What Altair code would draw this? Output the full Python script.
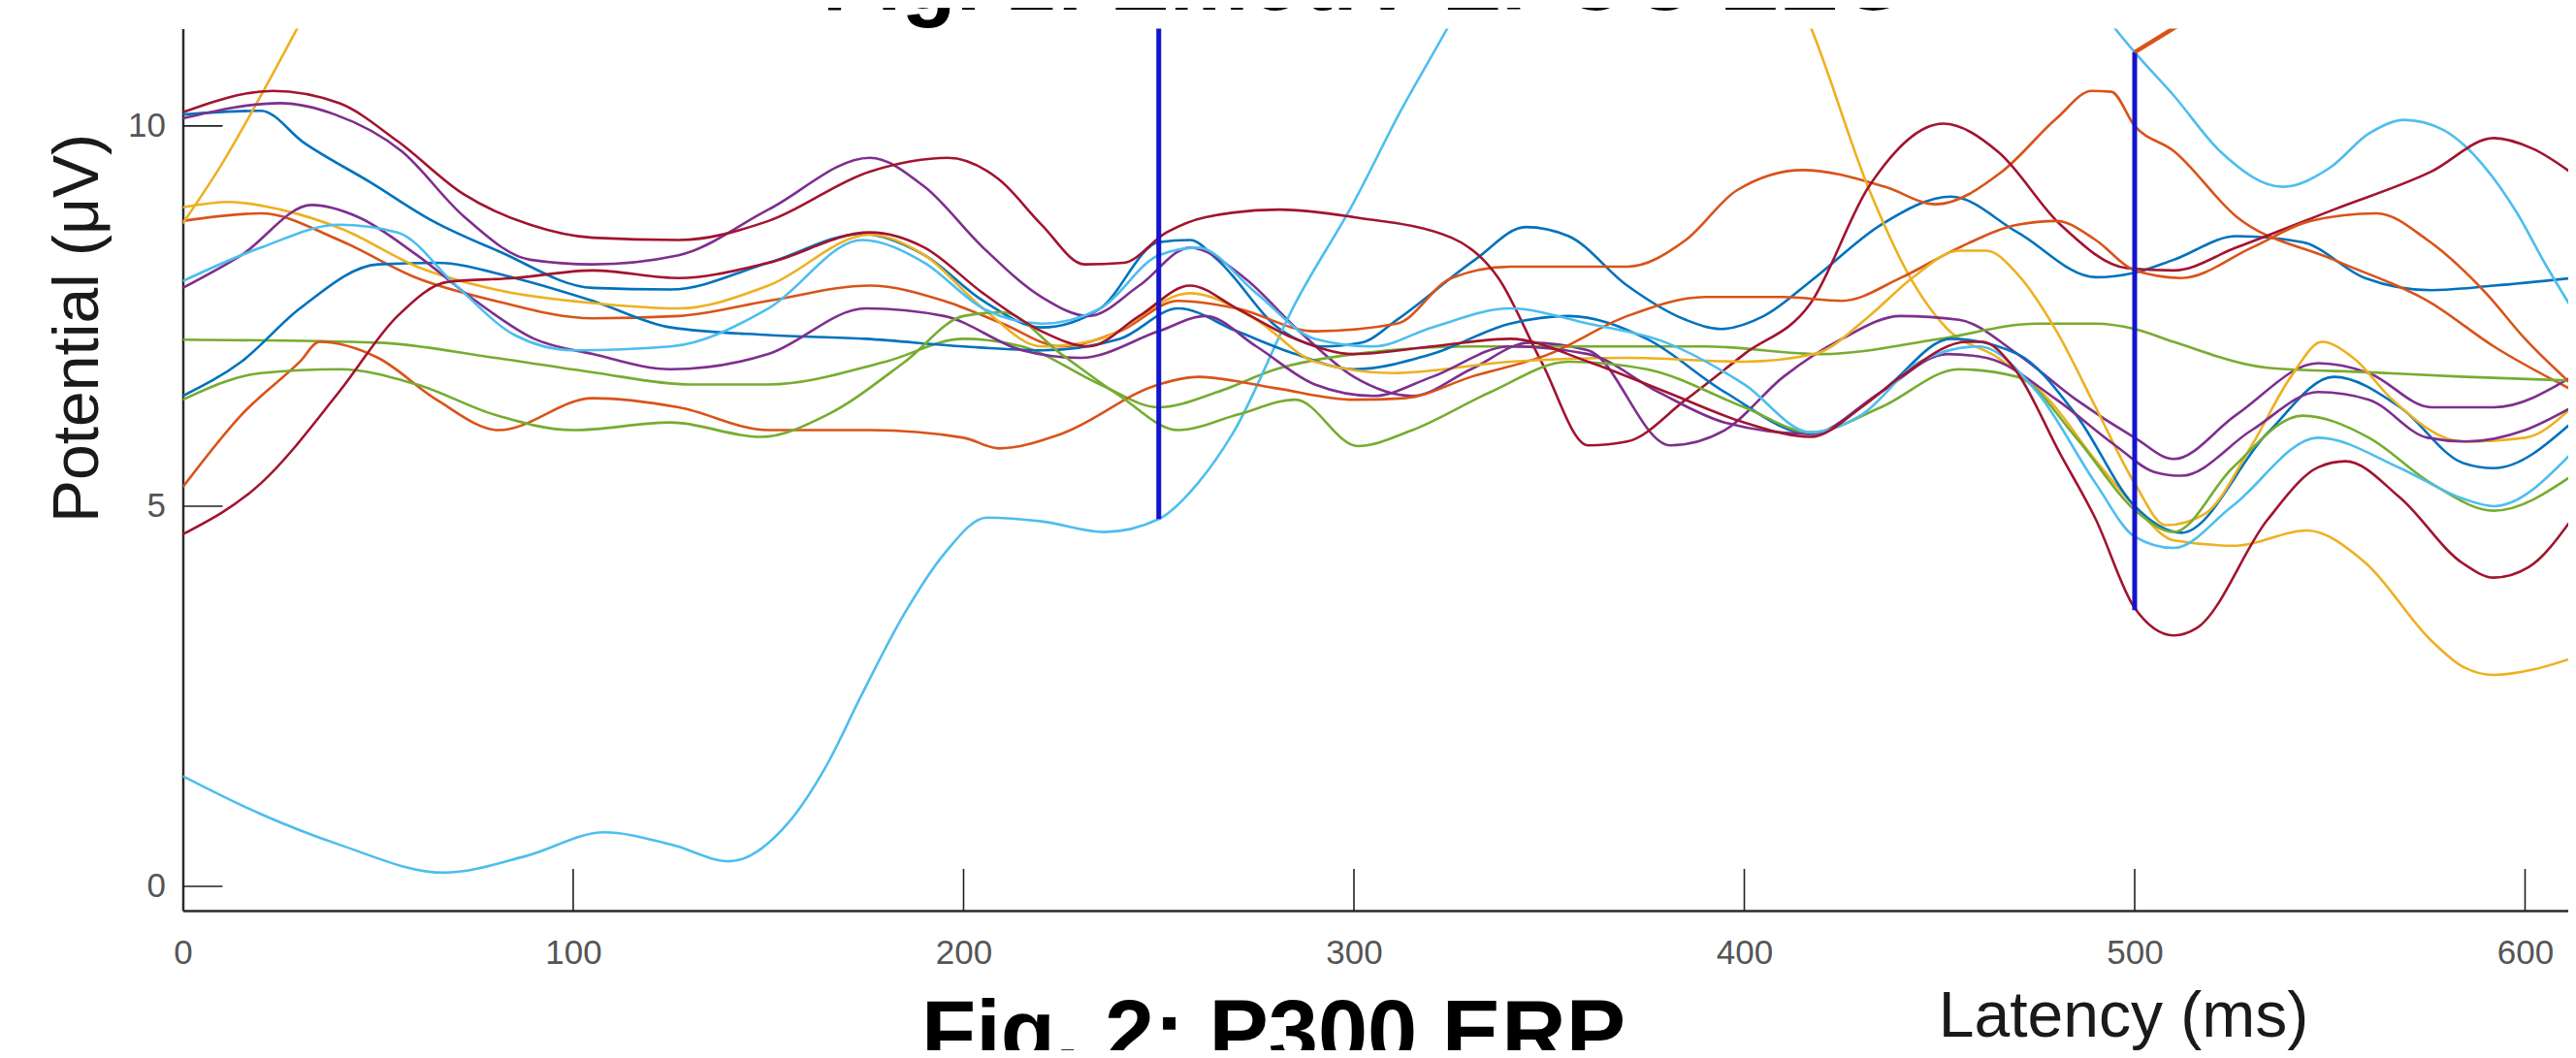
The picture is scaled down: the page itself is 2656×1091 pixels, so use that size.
import altair as alt
import pandas as pd

# ---------------- data (latency ms, potential uV) ----------------
CYAN_A = [(0,1.45),(20,0.95),(40,0.55),(67,0.18),(88,0.4),(108,0.71),(125,0.55),(140,0.33),(155,0.83),
          (165,1.6),(174,2.53),(185,3.6),(195,4.37),(206,4.85),(220,4.8),(236,4.66),(250,4.83),(260,5.3),
          (269,5.96),(285,7.67),(300,9.0),(312,10.2),(324,11.29),(340,12.8),(380,14.5),(440,14.5),(480,12.5),
          (495,11.28),(500,10.97),(510,10.4),(522,9.66),(538,9.2),(550,9.45),(560,9.9),(569,10.08),(579,9.95),
          (589,9.5),(598,8.85),(605,8.2),(612,7.6)]
YEL_A = [(0,8.72),(10,9.5),(20,10.4),(30,11.35),(45,12.8),(70,14.5),(100,15.5),(360,15.5),(392,14.0),
         (405,12.6),(417,11.3),(432,9.16),(443,7.96),(452,7.33),(465,6.95),(478,6.4),(490,5.6),(500,5.0),
         (510,4.55),(526,4.48),(544,4.68),(559,4.26),(576,3.23),(584,2.89),(592,2.78),(602,2.85),(612,3.0)]
YEL_B = [(0,8.93),(12,9.0),(25,8.9),(41,8.64),(60,8.15),(80,7.85),(105,7.67),(127,7.6),(150,7.9),(176,8.57),
         (190,8.3),(205,7.6),(220,7.1),(235,7.2),(258,7.8),(275,7.45),(290,6.9),(310,6.75),(340,6.9),(370,6.95),
         (400,6.9),(418,7.0),(432,7.5),(443,8.0),(455,8.36),(462,8.36),(470,8.05),(480,7.3),(490,6.3),(500,5.3),
         (508,4.75),(518,4.9),(530,5.8),(540,6.7),(548,7.16),(556,6.95),(566,6.4),(584,5.85),(600,5.9),(612,6.3)]
DR_A = [(0,10.18),(23,10.46),(40,10.3),(55,9.8),(72,9.1),(89,8.7),(105,8.53),(127,8.5),(150,8.75),(176,9.4),
        (196,9.58),(209,9.3),(220,8.7),(231,8.18),(241,8.2),(252,8.6),(262,8.8),(281,8.9),(300,8.8),(325,8.53),
        (337,8.0),(348,6.9),(360,5.8),(370,5.85),(385,6.4),(400,7.0),(417,7.67),(432,9.21),(451,10.03),(465,9.66),
        (481,8.7),(498,8.13),(510,8.1),(526,8.4),(551,8.9),(576,9.4),(592,9.84),(602,9.7),(612,9.38)]
PU_A = [(0,10.1),(25,10.3),(39,10.15),(56,9.67),(72,8.81),(89,8.24),(105,8.18),(127,8.3),(150,8.9),(176,9.58),
        (190,9.2),(205,8.4),(220,7.75),(232,7.5),(245,7.9),(258,8.4),(272,8.0),(286,7.3),(300,6.7),(315,6.45),
        (330,6.8),(345,7.15),(360,7.05),(381,5.8),(395,6.0),(410,6.7),(425,7.2),(440,7.5),(455,7.45),(470,7.0),
        (485,6.4),(500,5.9),(510,5.62),(526,6.2),(547,6.88),(560,6.75),(576,6.3),(592,6.3),(612,6.7)]
BL_A = [(0,10.15),(20,10.2),(31,9.78),(48,9.26),(64,8.75),(81,8.35),(105,7.87),(125,7.85),(150,8.2),(174,8.58),
        (190,8.3),(205,7.7),(220,7.35),(235,7.6),(250,8.47),(258,8.5),(265,8.24),(281,7.33),(292,7.1),(302,7.15),
        (311,7.45),(331,8.24),(344,8.67),(355,8.55),(370,7.9),(385,7.45),(394,7.33),(405,7.5),(418,8.0),(435,8.7),
        (453,9.07),(470,8.6),(490,8.01),(500,8.07),(510,8.24),(526,8.55),(543,8.47),(559,8.0),(576,7.84),(592,7.9),
        (612,8.0)]
DR_B = [(0,4.63),(20,5.3),(40,6.5),(55,7.5),(68,7.95),(85,8.0),(105,8.1),(127,8.0),(150,8.2),(176,8.6),(190,8.4),
        (205,7.8),(220,7.3),(232,7.1),(245,7.5),(258,7.9),(270,7.6),(285,7.2),(300,7.0),(320,7.1),(340,7.2),(360,6.9),
        (380,6.5),(400,6.1),(417,5.91),(430,6.3),(440,6.7),(457,7.16),(461,7.16),(469,6.82),(481,5.68),(490,4.83),
        (500,3.66),(510,3.3),(516,3.4),(534,4.82),(547,5.51),(554,5.59),(568,5.11),(584,4.25),(592,4.06),(601,4.2),
        (612,4.83)]
PU_B = [(0,7.87),(15,8.3),(33,8.96),(45,8.8),(60,8.3),(75,7.7),(90,7.2),(105,7.0),(125,6.8),(150,7.0),(175,7.6),
        (195,7.5),(215,7.05),(230,6.95),(250,7.3),(262,7.5),(275,7.1),(290,6.6),(305,6.45),(320,6.7),(340,7.1),
        (360,7.0),(378,6.5),(395,6.1),(417,5.95),(435,6.5),(452,7.0),(462,6.95),(480,6.4),(495,5.8),(505,5.45),
        (512,5.4),(530,6.0),(547,6.5),(560,6.4),(575,5.9),(585,5.85),(600,6.0),(612,6.3)]
OR_A = [(0,8.75),(20,8.85),(40,8.5),(60,8.0),(80,7.7),(105,7.47),(127,7.5),(150,7.7),(176,7.9),(195,7.7),
        (210,7.4),(225,7.1),(240,7.3),(255,7.7),(270,7.6),(290,7.3),(311,7.4),(325,8.0),(340,8.15),(370,8.15),
        (385,8.5),(398,9.15),(415,9.42),(436,9.2),(449,8.97),(466,9.4),(480,10.1),(489,10.46),(494,10.45),
        (500,10.0),(510,9.67),(526,8.81),(551,8.24),(576,7.67),(592,7.1),(612,6.53)]
OR_B = [(0,5.25),(15,6.2),(30,6.9),(35,7.16),(50,6.95),(65,6.4),(81,6.0),(105,6.42),(127,6.3),(150,6.0),
        (176,6.0),(200,5.9),(209,5.76),(225,5.95),(250,6.6),(260,6.7),(280,6.55),(300,6.4),(313,6.42),(330,6.7),
        (350,7.0),(370,7.5),(390,7.75),(410,7.75),(425,7.7),(440,8.0),(455,8.4),(470,8.7),(480,8.75),(490,8.5),
        (500,8.1),(512,8.0),(530,8.4),(545,8.75),(562,8.85),(575,8.5),(590,7.8),(600,7.2),(612,6.6)]
CY_B = [(0,7.96),(20,8.4),(40,8.7),(55,8.6),(70,7.9),(85,7.25),(100,7.05),(125,7.1),(150,7.6),(174,8.5),
        (190,8.2),(205,7.6),(220,7.4),(235,7.6),(250,8.3),(260,8.4),(275,7.8),(290,7.2),(305,7.1),(320,7.35),
        (340,7.6),(360,7.4),(380,7.15),(400,6.6),(417,5.97),(430,6.2),(445,6.9),(460,7.1),(475,6.5),(490,5.3),
        (500,4.6),(510,4.45),(525,5.0),(547,5.9),(568,5.5),(584,5.1),(592,5.0),(612,5.7)]
GR_A = [(0,7.19),(50,7.15),(80,6.95),(105,6.76),(130,6.6),(150,6.6),(180,6.9),(200,7.2),(215,7.1),(235,6.6),
        (250,6.3),(265,6.5),(280,6.8),(300,7.0),(330,7.1),(360,7.1),(390,7.1),(420,7.0),(450,7.2),(475,7.4),
        (490,7.4),(500,7.33),(510,7.16),(534,6.82),(560,6.76),(585,6.7),(612,6.65)]
GR_B = [(0,6.4),(20,6.75),(40,6.8),(60,6.6),(80,6.2),(100,6.0),(125,6.1),(148,5.91),(165,6.2),(185,6.9),
        (200,7.5),(210,7.55),(225,7.0),(240,6.45),(255,6.0),(270,6.2),(285,6.4),(301,5.79),(315,6.0),(335,6.5),
        (355,6.9),(375,6.8),(400,6.3),(417,5.97),(435,6.3),(455,6.8),(470,6.7),(485,5.9),(500,4.95),(510,4.66),
        (525,5.5),(543,6.19),(560,5.9),(576,5.3),(592,4.94),(612,5.4)]
BL_B = [(0,6.45),(15,6.9),(30,7.6),(50,8.18),(65,8.2),(85,8.0),(105,7.7),(125,7.35),(150,7.25),(175,7.2),
        (200,7.1),(220,7.05),(240,7.2),(255,7.6),(270,7.3),(285,7.0),(300,6.8),(320,7.0),(340,7.4),(355,7.5),
        (375,7.2),(395,6.5),(417,5.95),(435,6.5),(453,7.2),(470,7.0),(485,6.2),(500,5.0),(512,4.65),(534,5.96),
        (551,6.7),(568,6.3),(584,5.57),(592,5.5),(612,6.1)]

SERIES_NAMES = ["bl_a", "or_a", "yel_a", "pu_a", "gr_a", "cy_a", "dr_a",
                "bl_b", "or_b", "yel_b", "pu_b", "gr_b", "cy_b", "dr_b"]
SERIES_COLORS = ["#0072BD", "#D95319", "#EDB120", "#7E2F8E", "#77AC30", "#4DBEEE", "#A2142F",
                 "#0072BD", "#D95319", "#EDB120", "#7E2F8E", "#77AC30", "#4DBEEE", "#A2142F"]
SERIES_POINTS = [BL_A, OR_A, YEL_A, PU_A, GR_A, CYAN_A, DR_A,
                 BL_B, OR_B, YEL_B, PU_B, GR_B, CY_B, DR_B]

MARKER_T = [250, 500]
MARKER_LO = [4.83, 3.63]
MARKER_HI = [12.0, 10.97]
ORANGE_SEG = [(500, 10.97), (520, 11.6)]

X_TICKS = [0, 100, 200, 300, 400, 500, 600]
Y_TICKS = [0, 5, 10]

TOP_TITLE = "Fig. 1: EmotiV EPOC EEG"
BOTTOM_CAPTION = "Fig. 2: P300 ERP"
X_TITLE = "Latency (ms)"
Y_TITLE = "Potential (\u03bcV)"

# ---------------- build tables ----------------
rows = []
for name, pts in zip(SERIES_NAMES, SERIES_POINTS):
    for t, v in pts:
        rows.append({"series": name, "t": t, "v": v})
df = pd.DataFrame(rows)

W, H = 2459.5, 909.5
FONT = "Liberation Sans"
xscale = alt.Scale(domain=[0, 611.06], nice=False, zero=False)
yscale = alt.Scale(domain=[-0.319, 11.28], nice=False, zero=False)

x_axis = alt.Axis(values=X_TICKS, ticks=False, grid=False, domain=True, domainColor="#2a2a2a", domainWidth=2.5,
                  labels=True, labelFont=FONT, labelFontSize=35, labelColor="#555555", labelPadding=26,
                  labelFlush=False, labelBaseline="top", labelOverlap=False,
                  title=X_TITLE, titleFont=FONT, titleFontSize=66, titleFontWeight="normal",
                  titleColor="#1a1a1a", titleX=2000.5, titleY=129, titleAlign="center",
                  titleBaseline="alphabetic", titleAnchor="start")
y_axis = alt.Axis(values=Y_TICKS, ticks=False, grid=False, domain=True, domainColor="#2a2a2a", domainWidth=2.5,
                  labels=True, labelFont=FONT, labelFontSize=35, labelColor="#555555", labelPadding=18,
                  labelOverlap=False,
                  title=Y_TITLE, titleFont=FONT, titleFontSize=66, titleFontWeight="normal",
                  titleColor="#1a1a1a", titleX=-88.5, titleY=308.5, titleAngle=270,
                  titleAlign="center", titleBaseline="alphabetic", titleAnchor="start")

X_ENC = alt.X("t:Q", scale=xscale, axis=x_axis)
Y_ENC = alt.Y("v:Q", scale=yscale, axis=y_axis)

lines = alt.Chart(df).mark_line(strokeWidth=2.6, interpolate="monotone", clip=True).encode(
    x=X_ENC,
    y=Y_ENC,
    color=alt.Color("series:N", scale=alt.Scale(domain=SERIES_NAMES, range=SERIES_COLORS), legend=None),
)

markers = alt.Chart(pd.DataFrame({"t": MARKER_T, "v": MARKER_LO, "v2": MARKER_HI})).mark_rule(
    color="#1414CC", strokeWidth=5, clip=True).encode(
    x=X_ENC,
    y=Y_ENC,
    y2="v2:Q",
)

seg = alt.Chart(pd.DataFrame({"t": [p[0] for p in ORANGE_SEG], "v": [p[1] for p in ORANGE_SEG]})).mark_line(
    color="#D95319", strokeWidth=4.5, clip=True).encode(
    x=X_ENC,
    y=Y_ENC,
)

ytick = alt.Chart(pd.DataFrame({"v": Y_TICKS})).mark_rule(color="#222222", strokeWidth=1.6).encode(
    y=Y_ENC, x=alt.value(0), x2=alt.value(41))
xtick = alt.Chart(pd.DataFrame({"t": X_TICKS[1:]})).mark_rule(color="#222222", strokeWidth=1.6).encode(
    x=X_ENC, y=alt.value(H), y2=alt.value(H - 43))

top_title = alt.Chart(pd.DataFrame({"label": [TOP_TITLE]})).mark_text(
    font=FONT, fontSize=92, fontWeight="bold", color="#000000", align="center", baseline="alphabetic").encode(
    x=alt.value(1219), y=alt.value(-19.5), text="label:N")
bottom_caption = alt.Chart(pd.DataFrame({"label": [BOTTOM_CAPTION]})).mark_text(
    font=FONT, fontSize=92, fontWeight="bold", color="#000000", align="center", baseline="alphabetic").encode(
    x=alt.value(1124.5), y=alt.value(1066.5), text="label:N")

chart = alt.layer(lines, markers, seg, ytick, xtick, top_title, bottom_caption).properties(
    width=W, height=H,
    autosize=alt.AutoSizeParams(type="none"),
    padding={"left": 180.5, "top": 21.5, "right": 0, "bottom": 144},
    background="white",
).configure_view(stroke=None)

chart.save("out.html", embed_options={"renderer": "svg", "actions": False})
